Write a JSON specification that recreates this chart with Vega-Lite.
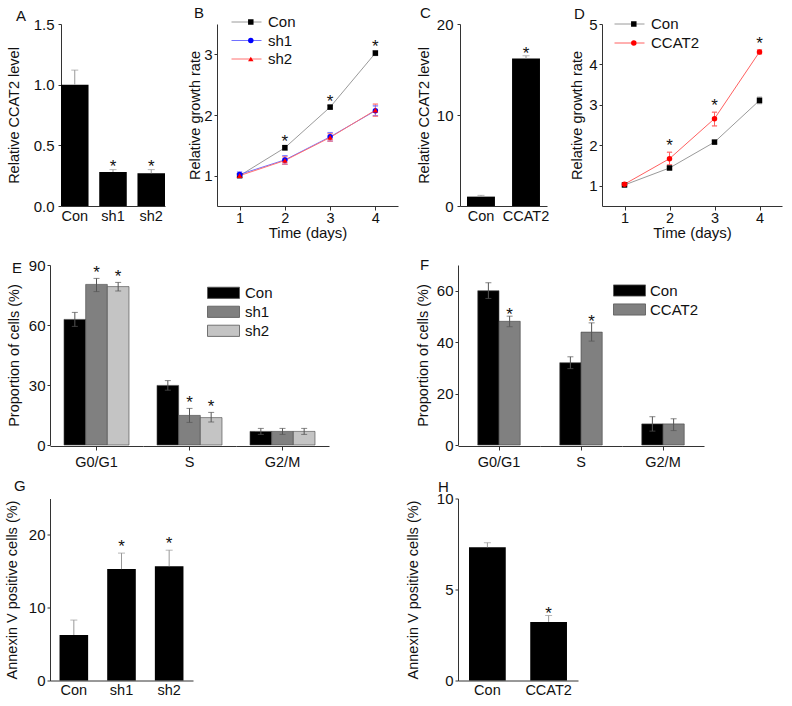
{
  "$schema": "https://vega.github.io/schema/vega-lite/v6.json",
  "padding": {"left": 4, "top": 5, "right": 2, "bottom": 2},
  "spacing": 17,
  "resolve": {"scale": {"fill": "independent", "stroke": "independent", "shape": "independent", "color": "independent"}, "legend": {"fill": "independent", "stroke": "independent", "shape": "independent"}},
  "datasets": {
    "a": [
      {"g": "Con", "v": 1.0, "hi": 1.12, "sig": ""},
      {"g": "sh1", "v": 0.28, "hi": 0.30, "sig": "*"},
      {"g": "sh2", "v": 0.27, "hi": 0.30, "sig": "*"}
    ],
    "b": [
      {"day": 1, "grp": "Con", "v": 1.0, "lo": 0.97, "hi": 1.03, "sig": ""},
      {"day": 2, "grp": "Con", "v": 1.46, "lo": 1.42, "hi": 1.50, "sig": "*"},
      {"day": 3, "grp": "Con", "v": 2.13, "lo": 2.10, "hi": 2.16, "sig": "*"},
      {"day": 4, "grp": "Con", "v": 3.02, "lo": 2.98, "hi": 3.06, "sig": "*"},
      {"day": 1, "grp": "sh1", "v": 1.02, "lo": 0.98, "hi": 1.06, "sig": ""},
      {"day": 2, "grp": "sh1", "v": 1.26, "lo": 1.19, "hi": 1.33, "sig": ""},
      {"day": 3, "grp": "sh1", "v": 1.64, "lo": 1.57, "hi": 1.71, "sig": ""},
      {"day": 4, "grp": "sh1", "v": 2.07, "lo": 1.99, "hi": 2.15, "sig": ""},
      {"day": 1, "grp": "sh2", "v": 1.0, "lo": 0.97, "hi": 1.03, "sig": ""},
      {"day": 2, "grp": "sh2", "v": 1.25, "lo": 1.19, "hi": 1.31, "sig": ""},
      {"day": 3, "grp": "sh2", "v": 1.63, "lo": 1.57, "hi": 1.69, "sig": ""},
      {"day": 4, "grp": "sh2", "v": 2.08, "lo": 1.98, "hi": 2.18, "sig": ""}
    ],
    "c": [
      {"g": "Con", "v": 1.03, "hi": 1.17, "sig": ""},
      {"g": "CCAT2", "v": 16.2, "hi": 16.5, "sig": "*"}
    ],
    "d": [
      {"day": 1, "grp": "Con", "v": 1.02, "lo": 0.99, "hi": 1.05, "sig": ""},
      {"day": 2, "grp": "Con", "v": 1.44, "lo": 1.40, "hi": 1.48, "sig": ""},
      {"day": 3, "grp": "Con", "v": 2.08, "lo": 2.04, "hi": 2.12, "sig": ""},
      {"day": 4, "grp": "Con", "v": 3.11, "lo": 3.03, "hi": 3.19, "sig": ""},
      {"day": 1, "grp": "CCAT2", "v": 1.04, "lo": 1.01, "hi": 1.07, "sig": ""},
      {"day": 2, "grp": "CCAT2", "v": 1.67, "lo": 1.52, "hi": 1.83, "sig": "*"},
      {"day": 3, "grp": "CCAT2", "v": 2.66, "lo": 2.48, "hi": 2.82, "sig": "*"},
      {"day": 4, "grp": "CCAT2", "v": 4.31, "lo": 4.26, "hi": 4.36, "sig": "*"}
    ],
    "e": [
      {"phase": "G0/G1", "grp": "Con", "v": 62.8, "lo": 59.3, "hi": 66.3, "sig": ""},
      {"phase": "G0/G1", "grp": "sh1", "v": 80.3, "lo": 76.7, "hi": 83.3, "sig": "*"},
      {"phase": "G0/G1", "grp": "sh2", "v": 79.2, "lo": 77.0, "hi": 81.3, "sig": "*"},
      {"phase": "S", "grp": "Con", "v": 29.8, "lo": 27.4, "hi": 32.2, "sig": ""},
      {"phase": "S", "grp": "sh1", "v": 14.8, "lo": 11.3, "hi": 18.3, "sig": "*"},
      {"phase": "S", "grp": "sh2", "v": 13.7, "lo": 11.5, "hi": 16.3, "sig": "*"},
      {"phase": "G2/M", "grp": "Con", "v": 6.8, "lo": 5.3, "hi": 8.3, "sig": ""},
      {"phase": "G2/M", "grp": "sh1", "v": 6.8, "lo": 5.3, "hi": 8.3, "sig": ""},
      {"phase": "G2/M", "grp": "sh2", "v": 6.8, "lo": 5.3, "hi": 8.3, "sig": ""}
    ],
    "f": [
      {"phase": "G0/G1", "grp": "Con", "v": 60.0, "lo": 57.0, "hi": 63.1, "sig": ""},
      {"phase": "G0/G1", "grp": "CCAT2", "v": 48.1, "lo": 46.0, "hi": 50.1, "sig": "*"},
      {"phase": "S", "grp": "Con", "v": 32.0, "lo": 29.7, "hi": 34.3, "sig": ""},
      {"phase": "S", "grp": "CCAT2", "v": 43.9, "lo": 40.4, "hi": 47.5, "sig": "*"},
      {"phase": "G2/M", "grp": "Con", "v": 8.2, "lo": 5.4, "hi": 11.0, "sig": ""},
      {"phase": "G2/M", "grp": "CCAT2", "v": 8.2, "lo": 5.6, "hi": 10.2, "sig": ""}
    ],
    "g": [
      {"g": "Con", "v": 6.25, "hi": 8.3, "sig": ""},
      {"g": "sh1", "v": 15.3, "hi": 17.5, "sig": "*"},
      {"g": "sh2", "v": 15.7, "hi": 17.9, "sig": "*"}
    ],
    "h": [
      {"g": "Con", "v": 7.32, "hi": 7.57, "sig": ""},
      {"g": "CCAT2", "v": 3.22, "hi": 3.57, "sig": "*"}
    ]
  },
  "vconcat": [
    {
      "bounds": "flush",
      "spacing": 52,
      "resolve": {"scale": {"fill": "independent", "stroke": "independent", "shape": "independent", "color": "independent"}, "legend": {"fill": "independent", "stroke": "independent", "shape": "independent"}},
      "hconcat": [
        {
          "width": 115, "height": 182,
          "title": {"text": "A", "dx": -34, "dy": 11},
          "data": {"name": "a"},
          "encoding": {"x": {"field": "g", "type": "nominal", "sort": null, "scale": {"range": [11, 115], "paddingInner": 0.28, "paddingOuter": 0}, "axis": {"title": null, "ticks": false, "labelPadding": 3}}},
          "layer": [
            {"mark": {"type": "bar", "color": "#000000"}, "encoding": {"y": {"field": "v", "type": "quantitative", "title": "Relative CCAT2 level", "scale": {"domain": [0, 1.5], "nice": false}, "axis": {"values": [0, 0.5, 1, 1.5], "format": ".1f", "offset": -11, "labelPadding": 4, "titlePadding": 12}}}},
            {"mark": {"type": "rule", "color": "#999999"}, "encoding": {"y": {"field": "v", "type": "quantitative", "title": "Relative CCAT2 level"}, "y2": {"field": "hi"}}},
            {"mark": {"type": "tick", "color": "#999999", "size": 7, "thickness": 1}, "encoding": {"y": {"field": "hi", "type": "quantitative", "title": "Relative CCAT2 level"}}},
            {"mark": {"type": "text", "fontSize": 17, "baseline": "alphabetic", "dy": 2.6, "color": "#111111"}, "encoding": {"y": {"field": "hi", "type": "quantitative", "title": "Relative CCAT2 level"}, "text": {"field": "sig"}}}
          ]
        },
        {
          "width": 191, "height": 182,
          "title": {"text": "B", "dx": -23, "dy": 10},
          "data": {"name": "b"},
          "encoding": {"x": {"field": "day", "type": "quantitative", "title": "Time (days)", "scale": {"domain": [0.5, 4.5], "range": [0, 181], "nice": false, "zero": false}, "axis": {"values": [1, 2, 3, 4], "format": "d", "tickSize": 4, "labelPadding": 1, "titlePadding": 1, "titleFontSize": 15}}},
          "layer": [
            {"mark": {"type": "line", "strokeWidth": 1}, "encoding": {
              "y": {"field": "v", "type": "quantitative", "title": "Relative growth rate", "scale": {"domain": [0.5, 3.5], "nice": false, "zero": false}, "axis": {"values": [1, 2, 3], "format": "d", "titlePadding": 2, "titleX": -15}},
              "stroke": {"field": "grp", "type": "nominal", "scale": {"domain": ["Con", "sh1", "sh2"], "range": ["#9a9a9a", "#7070ff", "#ff7070"]}, "legend": {"title": null, "orient": "none", "legendX": 14, "legendY": -9.5, "symbolSize": 900, "symbolStrokeWidth": 1, "clipHeight": 15, "labelOffset": 6, "labelFontSize": 15, "rowPadding": 2.5, "padding": 0}}}},
            {"mark": {"type": "rule", "strokeWidth": 1}, "encoding": {"y": {"field": "lo", "type": "quantitative", "title": "Relative growth rate"}, "y2": {"field": "hi"}, "stroke": {"field": "grp", "type": "nominal", "scale": {"domain": ["Con", "sh1", "sh2"]}, "legend": null}}},
            {"mark": {"type": "tick", "orient": "horizontal", "size": 5, "thickness": 0.3, "filled": false, "strokeWidth": 1}, "encoding": {"y": {"field": "hi", "type": "quantitative", "title": "Relative growth rate"}, "stroke": {"field": "grp", "type": "nominal", "scale": {"domain": ["Con", "sh1", "sh2"]}, "legend": null}}},
            {"mark": {"type": "tick", "orient": "horizontal", "size": 5, "thickness": 0.3, "filled": false, "strokeWidth": 1}, "encoding": {"y": {"field": "lo", "type": "quantitative", "title": "Relative growth rate"}, "stroke": {"field": "grp", "type": "nominal", "scale": {"domain": ["Con", "sh1", "sh2"]}, "legend": null}}},
            {"mark": {"type": "point", "filled": true, "size": 30, "opacity": 1}, "encoding": {
              "y": {"field": "v", "type": "quantitative", "title": "Relative growth rate"},
              "fill": {"field": "grp", "type": "nominal", "scale": {"range": ["#000000", "#0000ff", "#ff0000"]}, "legend": {"title": null, "orient": "none", "legendX": 26.3, "legendY": -9.5, "symbolSize": 30, "clipHeight": 15, "labelExpr": "''", "labelFontSize": 15, "rowPadding": 2.5, "padding": 0}},
              "shape": {"field": "grp", "type": "nominal", "scale": {"range": ["square", "circle", "triangle-up"]}, "legend": {"title": null, "orient": "none", "legendX": 26.3, "legendY": -9.5, "symbolSize": 30, "clipHeight": 15, "labelExpr": "''", "labelFontSize": 15, "rowPadding": 2.5, "padding": 0}}}},
            {"mark": {"type": "text", "fontSize": 17, "baseline": "alphabetic", "dy": 1.3, "color": "#111111"}, "encoding": {"y": {"field": "hi", "type": "quantitative", "title": "Relative growth rate"}, "text": {"field": "sig"}}}
          ]
        },
        {
          "width": 90, "height": 182,
          "title": {"text": "C", "dx": -40, "dy": 8},
          "data": {"name": "c"},
          "encoding": {"x": {"field": "g", "type": "nominal", "sort": null, "scale": {"range": [0, 87], "paddingInner": 0.38, "paddingOuter": 0.156}, "axis": {"title": null, "ticks": false, "labelPadding": 3}}},
          "layer": [
            {"mark": {"type": "bar", "color": "#000000"}, "encoding": {"y": {"field": "v", "type": "quantitative", "title": "Relative CCAT2 level", "scale": {"domain": [0, 20], "nice": false}, "axis": {"values": [0, 10, 20], "labelPadding": 4, "titlePadding": 5}}}},
            {"mark": {"type": "rule", "color": "#999999"}, "encoding": {"y": {"field": "v", "type": "quantitative", "title": "Relative CCAT2 level"}, "y2": {"field": "hi"}}},
            {"mark": {"type": "tick", "color": "#999999", "size": 7, "thickness": 1}, "encoding": {"y": {"field": "hi", "type": "quantitative", "title": "Relative CCAT2 level"}}},
            {"mark": {"type": "text", "fontSize": 17, "baseline": "alphabetic", "dy": 3, "color": "#111111"}, "encoding": {"y": {"field": "hi", "type": "quantitative", "title": "Relative CCAT2 level"}, "text": {"field": "sig"}}}
          ]
        },
        {
          "width": 180, "height": 182,
          "title": {"text": "D", "dx": -28, "dy": 9},
          "data": {"name": "d"},
          "encoding": {"x": {"field": "day", "type": "quantitative", "title": "Time (days)", "scale": {"domain": [0.5, 4.5], "nice": false, "zero": false}, "axis": {"values": [1, 2, 3, 4], "format": "d", "tickSize": 4, "labelPadding": 1, "titlePadding": 1, "titleFontSize": 15}}},
          "layer": [
            {"mark": {"type": "line", "strokeWidth": 1}, "encoding": {
              "y": {"field": "v", "type": "quantitative", "title": "Relative growth rate", "scale": {"domain": [0.5, 5], "nice": false, "zero": false}, "axis": {"values": [1, 2, 3, 4, 5], "format": "d", "titlePadding": 4}},
              "stroke": {"field": "grp", "type": "nominal", "scale": {"domain": ["Con", "CCAT2"], "range": ["#9a9a9a", "#ff6060"]}, "legend": {"title": null, "orient": "none", "legendX": 12, "legendY": -7.5, "symbolSize": 900, "symbolStrokeWidth": 1, "clipHeight": 15, "labelOffset": 6, "labelFontSize": 15, "rowPadding": 3, "padding": 0}}}},
            {"mark": {"type": "rule", "strokeWidth": 1}, "encoding": {"y": {"field": "lo", "type": "quantitative", "title": "Relative growth rate"}, "y2": {"field": "hi"}, "stroke": {"field": "grp", "type": "nominal", "scale": {"domain": ["Con", "CCAT2"]}, "legend": null}}},
            {"mark": {"type": "tick", "orient": "horizontal", "size": 5, "thickness": 0.3, "filled": false, "strokeWidth": 1}, "encoding": {"y": {"field": "hi", "type": "quantitative", "title": "Relative growth rate"}, "stroke": {"field": "grp", "type": "nominal", "scale": {"domain": ["Con", "CCAT2"]}, "legend": null}}},
            {"mark": {"type": "tick", "orient": "horizontal", "size": 5, "thickness": 0.3, "filled": false, "strokeWidth": 1}, "encoding": {"y": {"field": "lo", "type": "quantitative", "title": "Relative growth rate"}, "stroke": {"field": "grp", "type": "nominal", "scale": {"domain": ["Con", "CCAT2"]}, "legend": null}}},
            {"mark": {"type": "point", "filled": true, "size": 30, "opacity": 1}, "encoding": {
              "y": {"field": "v", "type": "quantitative", "title": "Relative growth rate"},
              "fill": {"field": "grp", "type": "nominal", "sort": "descending", "scale": {"range": ["#000000", "#ff0000"]}, "legend": {"title": null, "orient": "none", "legendX": 24.3, "legendY": -7.5, "symbolSize": 30, "clipHeight": 15, "labelExpr": "''", "labelFontSize": 15, "rowPadding": 3, "padding": 0}},
              "shape": {"field": "grp", "type": "nominal", "sort": "descending", "scale": {"range": ["square", "circle"]}, "legend": {"title": null, "orient": "none", "legendX": 24.3, "legendY": -7.5, "symbolSize": 30, "clipHeight": 15, "labelExpr": "''", "labelFontSize": 15, "rowPadding": 3, "padding": 0}}}},
            {"mark": {"type": "text", "fontSize": 17, "baseline": "alphabetic", "dy": -1, "color": "#111111"}, "encoding": {"y": {"field": "hi", "type": "quantitative", "title": "Relative growth rate"}, "text": {"field": "sig"}}}
          ]
        }
      ]
    },
    {
      "spacing": 9.5,
      "resolve": {"scale": {"fill": "independent", "stroke": "independent", "shape": "independent", "color": "independent"}, "legend": {"fill": "independent", "stroke": "independent", "shape": "independent"}},
      "vconcat": [
        {
          "bounds": "flush",
          "spacing": 408,
          "resolve": {"scale": {"fill": "independent", "stroke": "independent", "shape": "independent", "color": "independent"}, "legend": {"fill": "independent", "stroke": "independent", "shape": "independent"}},
          "hconcat": [
            {
              "title": {"text": "E", "dx": -38, "dy": 21.5},
              "data": {"name": "e"},
              "spacing": 0,
              "facet": {"column": {"field": "phase", "type": "nominal", "sort": ["G0/G1", "S", "G2/M"], "header": {"title": null, "labelOrient": "bottom", "labelFontSize": 14.5, "labelPadding": 5, "labelColor": "#111111", "labelFont": "Liberation Sans"}}},
              "spec": {
                "width": 93, "height": 180,
                "encoding": {"x": {"field": "grp", "type": "nominal", "scale": {"domain": ["Con", "sh1", "sh2"], "paddingInner": 0, "paddingOuter": 0.646}, "axis": {"title": null, "labels": false, "values": ["sh1"], "tickSize": 4}}},
                "layer": [
                  {"mark": {"type": "bar", "stroke": "#444444", "strokeWidth": 0.6}, "encoding": {
                    "y": {"field": "v", "type": "quantitative", "title": "Proportion of cells (%)", "scale": {"domain": [0, 90], "nice": false}, "axis": {"values": [0, 30, 60, 90], "titlePadding": 7}},
                    "fill": {"field": "grp", "type": "nominal", "scale": {"domain": ["Con", "sh1", "sh2"], "range": ["#000000", "#808080", "#c4c4c4"]}, "legend": {"title": null, "orient": "none", "legendX": 157, "legendY": 20.3, "symbolType": "M-1,-0.35H1V0.35H-1Z", "symbolSize": 1024, "clipHeight": 15, "symbolStrokeColor": "#555555", "symbolStrokeWidth": 0.8, "labelOffset": 5, "labelFontSize": 15, "rowPadding": 3, "padding": 0}}}},
                  {"mark": {"type": "rule", "color": "#555555", "strokeWidth": 1}, "encoding": {"y": {"field": "lo", "type": "quantitative", "title": "Proportion of cells (%)"}, "y2": {"field": "hi"}}},
                  {"mark": {"type": "tick", "color": "#555555", "size": 6, "thickness": 1}, "encoding": {"y": {"field": "hi", "type": "quantitative", "title": "Proportion of cells (%)"}}},
                  {"mark": {"type": "tick", "color": "#555555", "size": 6, "thickness": 1}, "encoding": {"y": {"field": "lo", "type": "quantitative", "title": "Proportion of cells (%)"}}},
                  {"mark": {"type": "text", "fontSize": 17, "baseline": "alphabetic", "dy": -0.5, "color": "#111111"}, "encoding": {"y": {"field": "hi", "type": "quantitative", "title": "Proportion of cells (%)"}, "text": {"field": "sig"}}}
                ]
              }
            },
            {
              "title": {"text": "F", "dx": -38, "dy": 12},
              "data": {"name": "f"},
              "spacing": 0,
              "facet": {"column": {"field": "phase", "type": "nominal", "sort": ["G0/G1", "S", "G2/M"], "header": {"title": null, "labelOrient": "bottom", "labelFontSize": 14.5, "labelPadding": 5, "labelColor": "#111111", "labelFont": "Liberation Sans"}}},
              "spec": {
                "width": 82, "height": 180,
                "encoding": {"x": {"field": "grp", "type": "nominal", "scale": {"domain": ["Con", "CCAT2"], "paddingInner": 0, "paddingOuter": 0.93}, "axis": {"title": null, "labels": false, "values": ["Con"], "bandPosition": 1, "tickSize": 4}}},
                "layer": [
                  {"mark": {"type": "bar", "stroke": "#444444", "strokeWidth": 0.6}, "encoding": {
                    "y": {"field": "v", "type": "quantitative", "title": "Proportion of cells (%)", "scale": {"domain": [0, 70], "nice": false}, "axis": {"values": [0, 20, 40, 60], "titlePadding": 6}},
                    "fill": {"field": "grp", "type": "nominal", "scale": {"domain": ["Con", "CCAT2"], "range": ["#000000", "#808080"]}, "legend": {"title": null, "orient": "none", "legendX": 155, "legendY": 18, "symbolType": "M-1,-0.35H1V0.35H-1Z", "symbolSize": 1024, "clipHeight": 15, "symbolStrokeColor": "#555555", "symbolStrokeWidth": 0.8, "labelOffset": 4, "labelFontSize": 15, "rowPadding": 3, "padding": 0}}}},
                  {"mark": {"type": "rule", "color": "#555555", "strokeWidth": 1}, "encoding": {"y": {"field": "lo", "type": "quantitative", "title": "Proportion of cells (%)"}, "y2": {"field": "hi"}}},
                  {"mark": {"type": "tick", "color": "#555555", "size": 6, "thickness": 1}, "encoding": {"y": {"field": "hi", "type": "quantitative", "title": "Proportion of cells (%)"}}},
                  {"mark": {"type": "tick", "color": "#555555", "size": 6, "thickness": 1}, "encoding": {"y": {"field": "lo", "type": "quantitative", "title": "Proportion of cells (%)"}}},
                  {"mark": {"type": "text", "fontSize": 17, "baseline": "alphabetic", "dy": 4.2, "color": "#111111"}, "encoding": {"y": {"field": "hi", "type": "quantitative", "title": "Proportion of cells (%)"}, "text": {"field": "sig"}}}
                ]
              }
            }
          ]
        },
        {
          "bounds": "flush",
          "spacing": 265,
          "resolve": {"scale": {"fill": "independent", "stroke": "independent", "shape": "independent", "color": "independent"}, "legend": {"fill": "independent", "stroke": "independent", "shape": "independent"}},
          "hconcat": [
            {
              "width": 143, "height": 182,
              "title": {"text": "G", "dx": -36, "dy": -1},
              "data": {"name": "g"},
              "encoding": {"x": {"field": "g", "type": "nominal", "sort": null, "scale": {"paddingInner": 0.4, "paddingOuter": 0.2}, "axis": {"title": null, "ticks": false, "labelPadding": 3}}},
              "layer": [
                {"mark": {"type": "bar", "color": "#000000"}, "encoding": {"y": {"field": "v", "type": "quantitative", "title": "Annexin V positive cells (%)", "scale": {"domain": [0, 25], "nice": false}, "axis": {"values": [0, 10, 20], "titlePadding": 9}}}},
                {"mark": {"type": "rule", "color": "#999999"}, "encoding": {"y": {"field": "v", "type": "quantitative", "title": "Annexin V positive cells (%)"}, "y2": {"field": "hi"}}},
                {"mark": {"type": "tick", "color": "#999999", "size": 7, "thickness": 1}, "encoding": {"y": {"field": "hi", "type": "quantitative", "title": "Annexin V positive cells (%)"}}},
                {"mark": {"type": "text", "fontSize": 17, "baseline": "alphabetic", "dy": -1.5, "color": "#111111"}, "encoding": {"y": {"field": "hi", "type": "quantitative", "title": "Annexin V positive cells (%)"}, "text": {"field": "sig"}}}
              ]
            },
            {
              "width": 120, "height": 182,
              "title": {"text": "H", "dx": -20, "dy": 7},
              "data": {"name": "h"},
              "encoding": {"x": {"field": "g", "type": "nominal", "sort": null, "scale": {"paddingInner": 0.4, "paddingOuter": 0.18}, "axis": {"title": null, "ticks": false, "labelPadding": 3}}},
              "layer": [
                {"mark": {"type": "bar", "color": "#000000"}, "encoding": {"y": {"field": "v", "type": "quantitative", "title": "Annexin V positive cells (%)", "scale": {"domain": [0, 10], "nice": false}, "axis": {"values": [0, 5, 10], "titlePadding": 16}}}},
                {"mark": {"type": "rule", "color": "#999999"}, "encoding": {"y": {"field": "v", "type": "quantitative", "title": "Annexin V positive cells (%)"}, "y2": {"field": "hi"}}},
                {"mark": {"type": "tick", "color": "#999999", "size": 7, "thickness": 1}, "encoding": {"y": {"field": "hi", "type": "quantitative", "title": "Annexin V positive cells (%)"}}},
                {"mark": {"type": "text", "fontSize": 17, "baseline": "alphabetic", "dy": 3.3, "color": "#111111"}, "encoding": {"y": {"field": "hi", "type": "quantitative", "title": "Annexin V positive cells (%)"}, "text": {"field": "sig"}}}
              ]
            }
          ]
        }
      ]
    }
  ],
  "config": {
    "font": "Liberation Sans",
    "view": {"stroke": null},
    "axis": {"grid": false, "domainColor": "#333333", "tickColor": "#333333", "labelColor": "#111111", "titleColor": "#111111", "titleFontWeight": "normal", "titleFontSize": 14.5, "labelFontSize": 15, "tickSize": 3, "labelPadding": 2},
    "axisX": {"labelFontSize": 14.5, "labelAngle": 0},
    "title": {"fontSize": 15, "fontWeight": "normal", "anchor": "start", "frame": "group", "offset": 0, "color": "#111111"},
    "legend": {"labelColor": "#111111"}
  }
}
